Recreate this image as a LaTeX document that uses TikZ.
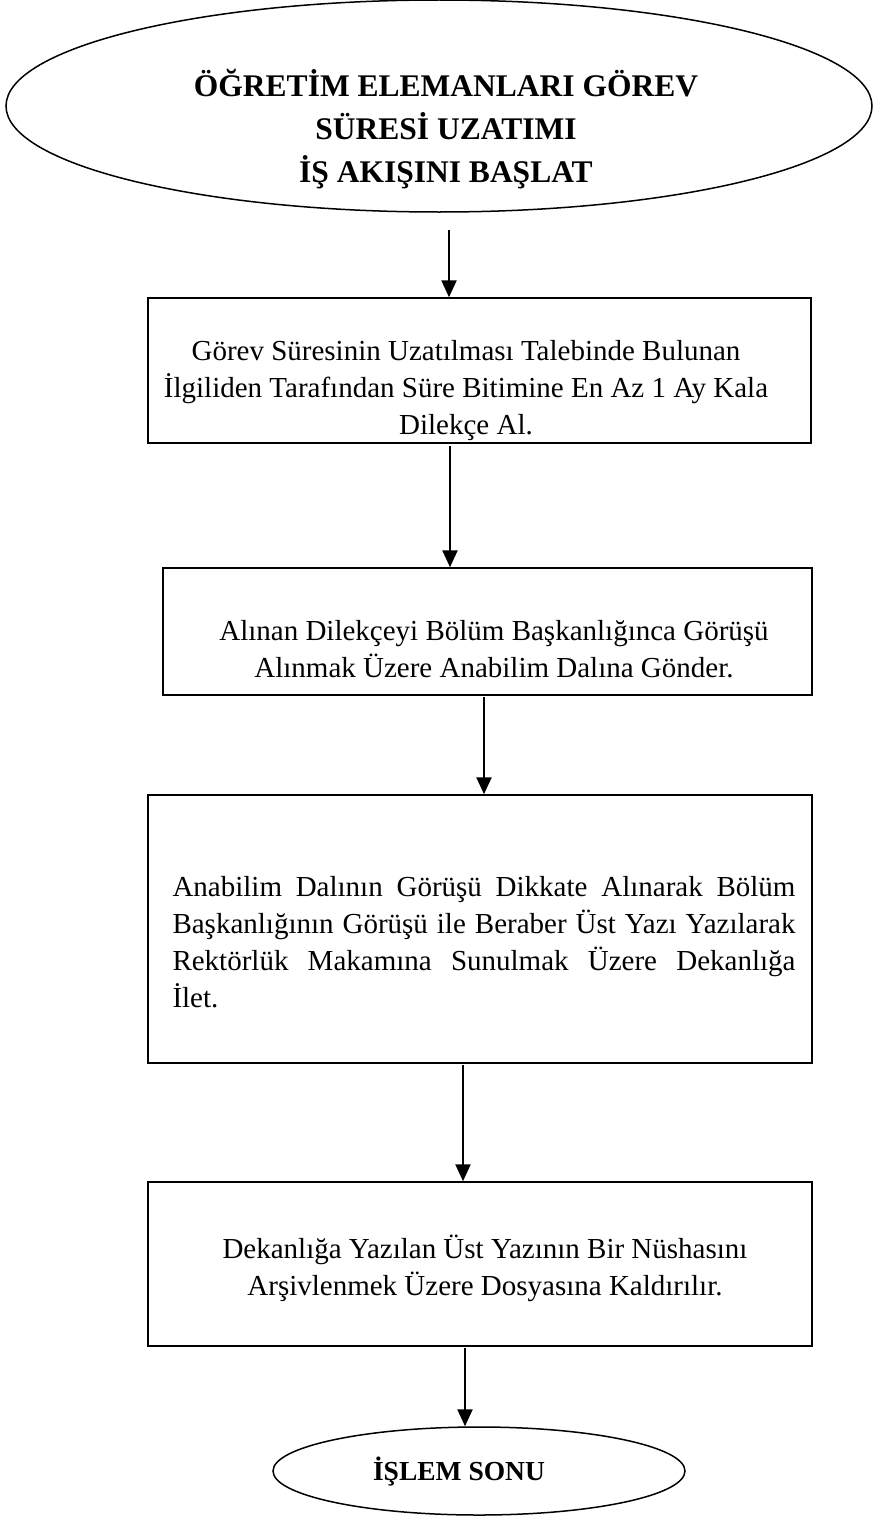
\documentclass[tikz,border=0pt]{standalone}
\usepackage{fontspec}
\setmainfont{Liberation Serif}
\usetikzlibrary{arrows.meta,shapes.geometric}
\begin{document}
\begin{tikzpicture}[x=1pt,y=-1pt,
  box/.style={draw=black,line width=1.5pt,rectangle,inner sep=0pt},
  oval/.style={draw=black,line width=1.5pt,ellipse,inner sep=0pt},
  body/.style={inner sep=0pt,align=center,font=\fontsize{29}{37}\selectfont},
  title/.style={inner sep=0pt,align=center,font=\fontsize{31.5}{43}\selectfont\bfseries},
  endtitle/.style={inner sep=0pt,align=center,font=\fontsize{27.5}{30}\selectfont\bfseries},
  arr/.style={line width=2.4pt,-{Triangle[length=17pt,width=15pt]}}]
\useasboundingbox (0,0) rectangle (879,1520);
% shapes
\node[oval,minimum width=866pt,minimum height=212pt] (start) at (439,106) {};
\node[box,minimum width=663pt,minimum height=145pt] (b1) at (479.5,370.5) {};
\node[box,minimum width=649pt,minimum height=127pt] (b2) at (487.5,631.5) {};
\node[box,minimum width=664pt,minimum height=268pt] (b3) at (480,929) {};
\node[box,minimum width=664pt,minimum height=164pt] (b4) at (480,1264) {};
\node[oval,minimum width=412pt,minimum height=88pt] (end) at (479,1471) {};
% texts
\node[title] (tstart) at (446,129) {ÖĞRETİM ELEMANLARI GÖREV\\SÜRESİ UZATIMI\\İŞ AKIŞINI BAŞLAT};
\node[body] (t1) at (466,391) {Görev Süresinin Uzatılması Talebinde Bulunan\\İlgiliden Tarafından Süre Bitimine En Az 1 Ay Kala\\Dilekçe Al.};
\node[body] (t2) at (494,649) {Alınan Dilekçeyi Bölüm Başkanlığınca Görüşü\\Alınmak Üzere Anabilim Dalına Gönder.};
\node[body,align=left] (t3) at (484,942) {%
\makebox[623pt][s]{Anabilim Dalının Görüşü Dikkate Alınarak Bölüm}\\
\makebox[623pt][s]{Başkanlığının Görüşü ile Beraber Üst Yazı Yazılarak}\\
\makebox[623pt][s]{Rektörlük Makamına Sunulmak Üzere Dekanlığa}\\
\makebox[623pt][l]{İlet.}};
\node[body] (t4) at (485,1268) {Dekanlığa Yazılan Üst Yazının Bir Nüshasını\\Arşivlenmek Üzere Dosyasına Kaldırılır.};
\node[endtitle] (tend) at (459,1472) {İŞLEM SONU};
% connectors
\coordinate (c1) at (449,230);
\coordinate (c2) at (450,446);
\coordinate (c3) at (484,697);
\coordinate (c4) at (463,1065);
\coordinate (c5) at (465,1348);
\draw[arr] (c1) -- (b1.north -| c1);
\draw[arr] (c2) -- (b2.north -| c2);
\draw[arr] (c3) -- (b3.north -| c3);
\draw[arr] (c4) -- (b4.north -| c4);
\draw[arr] (c5) -- (end.north -| c5);
\end{tikzpicture}
\end{document}
